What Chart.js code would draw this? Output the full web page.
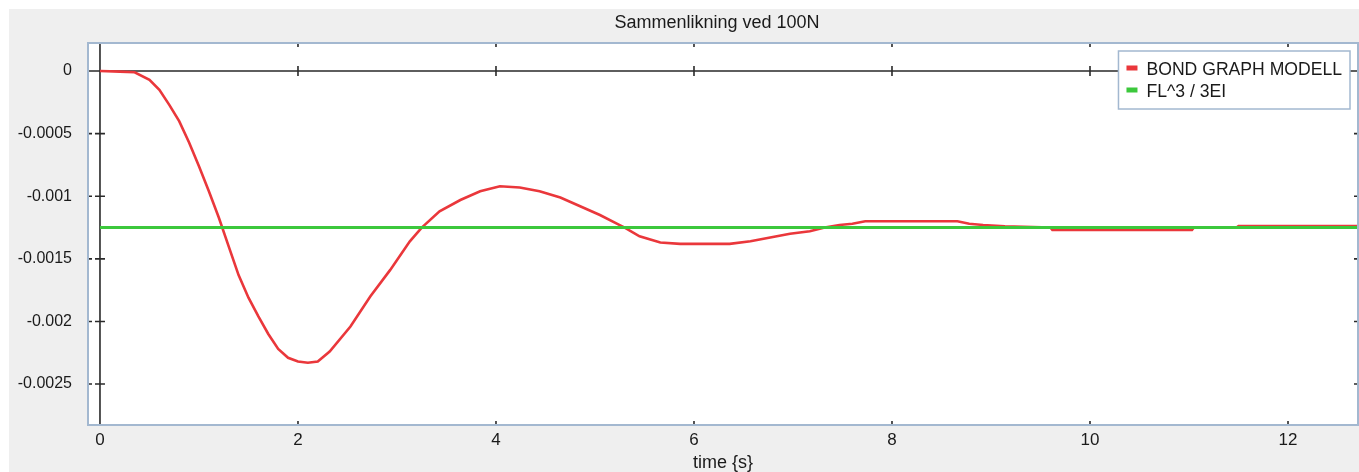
<!DOCTYPE html>
<html>
<head>
<meta charset="utf-8">
<script src="https://cdn.jsdelivr.net/npm/chart.js@4.4.1/dist/chart.umd.min.js"></script>
<style>
  body { margin: 0; background: #fff; overflow: hidden; }
  #panel { position: absolute; left: 9px; top: 9px; width: 1350px; height: 463px; background: #efefef; }
</style>
</head>
<body>
<div id="panel"><canvas id="chart" width="1350" height="463"></canvas></div>
<script>
// values
var timeS = [0, 0.2, 0.35, 0.5, 0.6, 0.7, 0.8, 0.9, 1.0, 1.1, 1.2, 1.3, 1.4, 1.5, 1.6, 1.7, 1.8, 1.9, 2.0, 2.1, 2.2,
  2.32, 2.53, 2.73, 2.93, 3.13, 3.25, 3.43, 3.64, 3.84, 4.04, 4.24, 4.44, 4.65, 4.85, 5.05, 5.25, 5.3, 5.45, 5.66, 5.86,
  6.36, 6.57, 6.77, 6.97, 7.17, 7.32, 7.47, 7.6, 7.73, 8.66, 8.78, 8.92, 9.14, 9.6, 9.62, 11.03, 11.05, 11.48, 11.5, 12.8];
var bondGraph = [0, -0.000005, -0.00001, -0.00007, -0.00015, -0.00027, -0.0004, -0.00057, -0.00076, -0.00096, -0.00117,
  -0.0014, -0.00163, -0.00181, -0.00196, -0.0021, -0.00222, -0.00229, -0.00232, -0.00233, -0.00232,
  -0.00224, -0.00204, -0.0018, -0.00159, -0.00136, -0.00125, -0.00112, -0.00103, -0.00096, -0.00092, -0.00093, -0.00096,
  -0.00101, -0.00108, -0.00115, -0.00123, -0.00125, -0.00132, -0.00137, -0.00138,
  -0.00138, -0.00136, -0.00133, -0.0013, -0.00128, -0.00125, -0.00123, -0.00122, -0.0012, -0.0012, -0.00122, -0.00123,
  -0.00124, -0.00125, -0.00127, -0.00127, -0.00125, -0.00125, -0.001238, -0.001238];
var staticTime = [0, 12.8];
var staticDefl = [-0.00125, -0.00125];

var xTicks = [0, 2, 4, 6, 8, 10, 12];
var yTicks = [0, -0.0005, -0.001, -0.0015, -0.002, -0.0025];

var titleText = "Sammenlikning ved 100N";
var xTitle = "time {s}";
var seriesNames = ["BOND GRAPH MODELL", "FL^3 / 3EI"];
var seriesColors = ["#ea373b", "#3cc83c"];

var FONT = "'Liberation Sans', Arial, sans-serif";
var TXT = "#1a1a1a";
var FRAME = "#a3b8d0";

function toPoints(xs, ys) {
  return xs.map(function (x, i) { return { x: x, y: ys[i] }; });
}

var plotDecor = {
  id: 'plotDecor',
  beforeDraw: function (chart) {
    var c = chart.ctx, a = chart.chartArea;
    c.save();
    c.fillStyle = '#fff';
    c.fillRect(a.left, a.top, a.right - a.left, a.bottom - a.top);
    // title
    c.fillStyle = TXT;
    c.font = "18px " + FONT;
    c.textAlign = 'center';
    c.textBaseline = 'middle';
    c.fillText(titleText, (a.left + a.right) / 2 - 6, 14);
    c.restore();
  },
  beforeDatasetsDraw: function (chart) {
    var c = chart.ctx, a = chart.chartArea;
    var xs = chart.scales.x, ys = chart.scales.y;
    var x0 = xs.getPixelForValue(0), y0 = ys.getPixelForValue(0);
    c.save();
    c.strokeStyle = '#2a2a2a';
    c.lineWidth = 1.6;
    c.beginPath();
    c.moveTo(a.left, y0); c.lineTo(a.right, y0);
    c.moveTo(x0, a.top); c.lineTo(x0, a.bottom);
    xTicks.forEach(function (v) {
      var px = xs.getPixelForValue(v);
      if (v !== 0) { c.moveTo(px, y0 - 5); c.lineTo(px, y0 + 5); }
      c.moveTo(px, a.top); c.lineTo(px, a.top + 4);
      c.moveTo(px, a.bottom - 4); c.lineTo(px, a.bottom);
    });
    yTicks.forEach(function (v) {
      var py = ys.getPixelForValue(v);
      if (v !== 0) { c.moveTo(x0 - 5, py); c.lineTo(x0 + 5, py); }
      c.moveTo(a.left, py); c.lineTo(a.left + 4, py);
      c.moveTo(a.right - 4, py); c.lineTo(a.right, py);
    });
    c.stroke();
    c.restore();
  },
  afterDatasetsDraw: function (chart) {
    var c = chart.ctx, a = chart.chartArea;
    c.save();
    c.strokeStyle = FRAME;
    c.lineWidth = 2;
    c.strokeRect(a.left, a.top, a.right - a.left, a.bottom - a.top);

    // legend box
    c.font = "17.6px " + FONT;
    var tw = Math.max.apply(null, seriesNames.map(function (s) { return c.measureText(s).width; }));
    var w = 8 + 11 + 9 + tw + 8, h = 58;
    var bx = a.right - 8 - w, by = a.top + 8;
    c.fillStyle = '#fff';
    c.fillRect(bx, by, w, h);
    c.lineWidth = 1.5;
    c.strokeRect(bx, by, w, h);
    c.textAlign = 'left';
    c.textBaseline = 'middle';
    seriesNames.forEach(function (name, i) {
      var cy = by + 17 + i * 22;
      c.fillStyle = seriesColors[i];
      c.fillRect(bx + 8, cy - 2.5, 11, 5);
      c.fillStyle = TXT;
      c.fillText(name, bx + 28, cy + 2);
    });
    c.restore();
  }
};

new Chart(document.getElementById('chart'), {
  type: 'line',
  data: {
    datasets: [{
      label: seriesNames[0],
      data: toPoints(timeS, bondGraph),
      borderColor: seriesColors[0],
      borderWidth: 2.6,
      pointRadius: 0,
      tension: 0,
      order: 1
    }, {
      label: seriesNames[1],
      data: toPoints(staticTime, staticDefl),
      borderColor: seriesColors[1],
      borderWidth: 3,
      pointRadius: 0,
      tension: 0,
      order: 0
    }]
  },
  options: {
    responsive: false,
    animation: false,
    layout: { padding: { top: 34, right: 1, left: 0, bottom: 0 } },
    plugins: {
      legend: { display: false },
      tooltip: { enabled: false },
      title: { display: false }
    },
    scales: {
      x: {
        type: 'linear',
        min: -0.121,
        max: 12.707,
        grid: { display: false },
        border: { display: false },
        afterBuildTicks: function (s) { s.ticks = xTicks.map(function (v) { return { value: v }; }); },
        afterFit: function (s) { s.height = 47; },
        ticks: {
          color: TXT,
          font: { family: FONT, size: 17 },
          padding: -3,
          maxRotation: 0,
          callback: function (v) { return String(v); }
        },
        title: {
          display: true,
          text: xTitle,
          color: TXT,
          font: { family: FONT, size: 18, lineHeight: 1.0 },
          padding: { top: 0, bottom: 0 }
        }
      },
      y: {
        min: -0.002827,
        max: 0.000224,
        grid: { display: false, drawTicks: false },
        border: { display: false },
        afterBuildTicks: function (s) { s.ticks = yTicks.map(function (v) { return { value: v }; }); },
        afterFit: function (s) { s.width = 79; },
        ticks: {
          color: TXT,
          font: { family: FONT, size: 16 },
          padding: 16,
          callback: function (v) { return String(v); }
        }
      }
    }
  },
  plugins: [plotDecor]
});
</script>
</body>
</html>
